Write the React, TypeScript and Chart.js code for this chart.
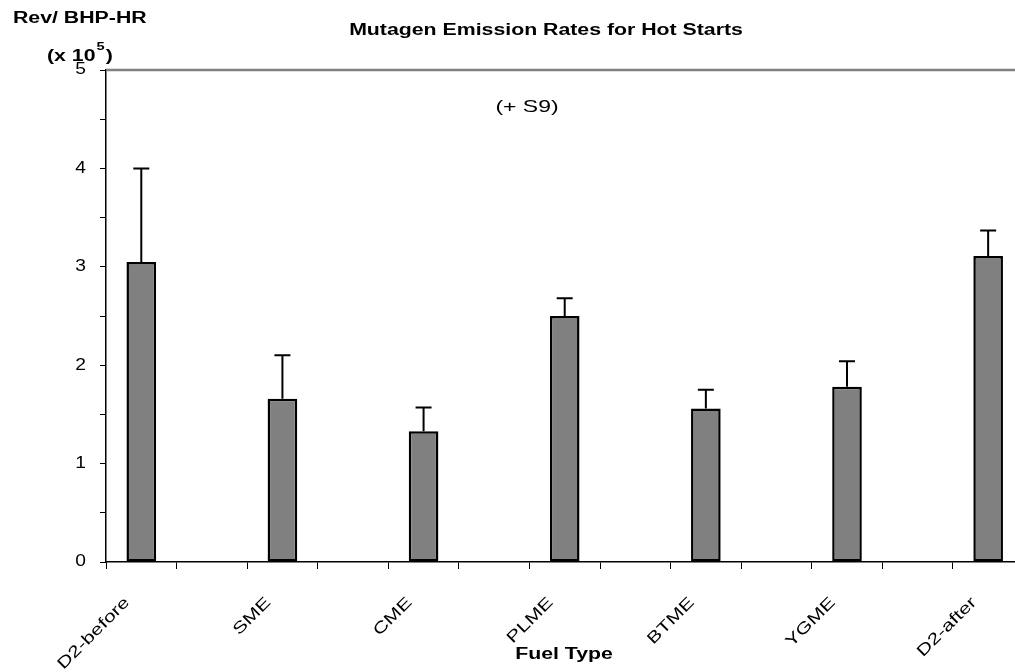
import React, { useEffect, useRef } from "react";
import { Chart, registerables } from "chart.js";

Chart.register(...registerables);

const categories = ["D2-before", "SME", "CME", "PLME", "BTME", "YGME", "D2-after"];
const meanRates = [3.05, 1.66, 1.33, 2.5, 1.56, 1.78, 3.11];
const upperErrors = [0.95, 0.44, 0.24, 0.18, 0.19, 0.26, 0.26];
const yTickValues = [0, 1, 2, 3, 4, 5];

const chartTitle = "Mutagen Emission Rates for Hot Starts";
const subLabel = "(+ S9)";
const yTitleLine1 = "Rev/ BHP-HR";
const xTitle = "Fuel Type";

const FONT = "'Liberation Sans', Arial, Helvetica, sans-serif";
const STRETCH = 1.33;

// every category followed by an empty slot
const slotLabels: string[] = [];
const slotValues: (number | null)[] = [];
const slotErrors: (number | null)[] = [];
categories.forEach((c, i) => {
  slotLabels.push(c, "");
  slotValues.push(meanRates[i], null);
  slotErrors.push(upperErrors[i], null);
});

function stretchedText(
  ctx: CanvasRenderingContext2D,
  text: string,
  x: number,
  y: number,
  font: string,
  align: CanvasTextAlign,
  baseline: CanvasTextBaseline,
  sx: number
) {
  ctx.save();
  ctx.font = font;
  ctx.textAlign = align;
  ctx.textBaseline = baseline;
  ctx.translate(x, y);
  ctx.scale(sx, 1);
  ctx.fillText(text, 0, 0);
  const w = ctx.measureText(text).width * sx;
  ctx.restore();
  return w;
}

const decorPlugin = {
  id: "decor",
  afterDatasetsDraw(chart: any) {
    const { ctx, scales } = chart;
    const meta = chart.getDatasetMeta(0);
    ctx.save();
    ctx.strokeStyle = "#000";
    ctx.lineWidth = 2;
    meta.data.forEach((bar: any, i: number) => {
      const v = slotValues[i];
      const e = slotErrors[i];
      if (v == null || e == null) return;
      const x = bar.x;
      const y0 = scales.y.getPixelForValue(v);
      const y1 = scales.y.getPixelForValue(v + e);
      ctx.beginPath();
      ctx.moveTo(x, y0);
      ctx.lineTo(x, y1);
      ctx.moveTo(x - 8, y1);
      ctx.lineTo(x + 8, y1);
      ctx.stroke();
    });
    ctx.restore();
  },
  afterDraw(chart: any) {
    const { ctx, chartArea, scales } = chart;
    ctx.save();
    // top border
    ctx.strokeStyle = "#808080";
    ctx.lineWidth = 2.5;
    ctx.beginPath();
    ctx.moveTo(chartArea.left, chartArea.top);
    ctx.lineTo(chart.width, chartArea.top);
    ctx.stroke();
    ctx.fillStyle = "#000";

    // y tick labels, positioned by the y scale
    yTickValues.forEach((v) => {
      const py = scales.y.getPixelForValue(v);
      stretchedText(ctx, String(v), 86, py, `16px ${FONT}`, "right", "middle", 1.2);
    });

    // category labels, rotated, positioned by the x scale
    categories.forEach((c, i) => {
      const px = scales.x.getPixelForValue(i * 2);
      ctx.save();
      ctx.font = `16px ${FONT}`;
      ctx.textAlign = "right";
      ctx.textBaseline = "middle";
      ctx.translate(px - 14, 600);
      ctx.rotate(-Math.PI / 4);
      ctx.scale(STRETCH, 1);
      ctx.fillText(c, 0, 0);
      ctx.restore();
    });

    const bold = `bold 16px ${FONT}`;
    stretchedText(ctx, chartTitle, 546, 31, bold, "center", "middle", STRETCH);
    stretchedText(ctx, subLabel, 527, 107, `17px ${FONT}`, "center", "middle", 1.35);
    stretchedText(ctx, xTitle, 564, 655, bold, "center", "middle", STRETCH);
    stretchedText(ctx, yTitleLine1, 13, 19, bold, "left", "middle", STRETCH);
    let x = 47;
    x += stretchedText(ctx, "(x 10", x, 61, bold, "left", "alphabetic", STRETCH) + 1;
    x += stretchedText(ctx, "5", x, 50, `bold 11px ${FONT}`, "left", "alphabetic", STRETCH) + 1;
    stretchedText(ctx, ")", x, 61, bold, "left", "alphabetic", STRETCH);
    ctx.restore();
  },
};

export default function App() {
  const canvasRef = useRef<HTMLCanvasElement | null>(null);

  useEffect(() => {
    if (!canvasRef.current) return;
    const chart = new Chart(canvasRef.current, {
      type: "bar",
      data: {
        labels: slotLabels,
        datasets: [
          {
            data: slotValues as any,
            backgroundColor: "#808080",
            borderColor: "#000",
            borderWidth: 2.5,
            borderSkipped: false,
            barPercentage: 0.42,
            categoryPercentage: 1,
          },
        ],
      },
      options: {
        animation: false,
        responsive: true,
        maintainAspectRatio: false,
        layout: { padding: { left: 0, top: 70, right: 16, bottom: 0 } },
        plugins: {
          legend: { display: false },
          title: { display: false },
          tooltip: { enabled: false },
        },
        scales: {
          x: {
            type: "category",
            offset: true,
            afterFit: (scale: any) => {
              scale.height = 110;
            },
            grid: {
              offset: true,
              drawOnChartArea: false,
              drawTicks: true,
              tickLength: 7,
              tickColor: "#000",
              lineWidth: 1,
            },
            border: { display: true, color: "#000", width: 1.5 },
            ticks: {
              display: false,
              autoSkip: false,
            },
          },
          y: {
            min: 0,
            max: 5,
            afterFit: (scale: any) => {
              scale.width = 106;
            },
            afterBuildTicks: (scale: any) => {
              const t: any[] = [];
              yTickValues.forEach((v, i) => {
                t.push({ value: v });
                if (i < yTickValues.length - 1) t.push({ value: v + 0.5 });
              });
              scale.ticks = t;
            },
            grid: {
              drawOnChartArea: false,
              drawTicks: true,
              tickLength: 6,
              tickColor: "#000",
              lineWidth: 1,
            },
            border: { display: true, color: "#000", width: 1.5 },
            ticks: {
              display: false,
            },
          },
        },
      },
      plugins: [decorPlugin],
    });
    return () => chart.destroy();
  }, []);

  return (
    <div
      style={{
        position: "fixed",
        left: 0,
        top: 0,
        width: "100vw",
        height: "100vh",
        overflow: "hidden",
        background: "#fff",
      }}
    >
      <div style={{ position: "relative", width: 1110, height: 672 }}>
        <canvas ref={canvasRef} />
      </div>
    </div>
  );
}
